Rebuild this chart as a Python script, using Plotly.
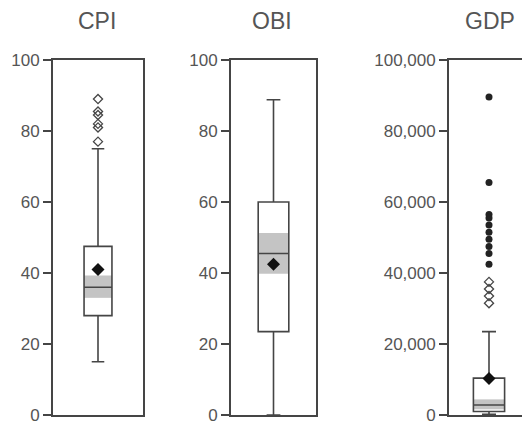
"""Box plots of CPI, OBI and GDP (three side-by-side panels).

Each panel: box (Q1..Q3) with median, gray band for the median CI,
whiskers with caps, mean as a filled diamond, outliers as markers.
"""

import plotly.graph_objects as go

# ---------------------------------------------------------------------------
# Data
# ---------------------------------------------------------------------------

panels = ["CPI", "OBI", "GDP"]

q1 = [28, 23.5, 1000]
median = [36, 45.5, 2800]
q3 = [47.5, 60, 10400]
lower_fence = [15, 0, 200]
upper_fence = [75, 88.8, 23500]
means = [41, 42.5, 10300]
ci_low = [33, 39.8, 1600]
ci_high = [39.3, 51.3, 4400]

# mild outliers (open diamonds)
mild_outliers = [
    [89, 85.5, 84.5, 82, 81, 77],
    [],
    [37500, 35500, 33500, 31500],
]
# far outliers (filled)
far_outliers = [
    [],
    [],
    [89600, 65500, 56500, 55500, 53500, 51500, 49500, 47500, 45500, 42500],
]

y_ranges = [[0, 100], [0, 100], [0, 100000]]
y_dticks = [20, 20, 20000]

# ---------------------------------------------------------------------------
# Style
# ---------------------------------------------------------------------------

LINE = "#454545"
BAND = "#c4c4c4"
TEXT = "#555555"
FONT = "Liberation Sans, Arial, sans-serif"

# page body has an 8px margin, so the figure is 16px smaller than the window
W, H = 522, 419
x_domains = [[45 / W, 135 / W], [223 / W, 308 / W], [441 / W, 521 / W]]
y_domain = [1 - 407 / H, 1 - 52 / H]
box_widths = [0.62, 0.72, 0.78]
title_x = [89 / W, 264 / W, 482 / W]

fig = go.Figure()

for i, name in enumerate(panels):
    xa = "x" if i == 0 else f"x{i + 1}"
    ya = "y" if i == 0 else f"y{i + 1}"
    w = box_widths[i]

    # -- median confidence band ---------------------------------------------
    fig.add_trace(go.Bar(
        x=[0], y=[ci_high[i] - ci_low[i]], base=[ci_low[i]],
        width=[w], marker=dict(color=BAND, line=dict(width=0)),
        xaxis=xa, yaxis=ya, hoverinfo="skip",
    ))

    # -- box + whiskers -----------------------------------------------------
    fig.add_trace(go.Box(
        x=[0], q1=[q1[i]], median=[median[i]], q3=[q3[i]],
        lowerfence=[lower_fence[i]], upperfence=[upper_fence[i]],
        width=w, whiskerwidth=0.45,
        line=dict(color=LINE, width=1.6),
        fillcolor="rgba(0,0,0,0)",
        boxpoints=False,
        xaxis=xa, yaxis=ya, name=name,
    ))

    # -- outliers -----------------------------------------------------------
    if mild_outliers[i]:
        fig.add_trace(go.Scatter(
            x=[0] * len(mild_outliers[i]), y=mild_outliers[i],
            mode="markers",
            marker=dict(symbol="diamond-open", size=7, color=LINE,
                        line=dict(width=1.3, color=LINE)),
            xaxis=xa, yaxis=ya, cliponaxis=False,
        ))
    if far_outliers[i]:
        fig.add_trace(go.Scatter(
            x=[0] * len(far_outliers[i]), y=far_outliers[i],
            mode="markers",
            marker=dict(symbol="circle", size=7, color="#222222"),
            xaxis=xa, yaxis=ya,
        ))

    # -- mean ---------------------------------------------------------------
    fig.add_trace(go.Scatter(
        x=[0], y=[means[i]], mode="markers",
        marker=dict(symbol="diamond", size=10, color="#111111"),
        xaxis=xa, yaxis=ya,
    ))

    # -- axes ---------------------------------------------------------------
    axis_common = dict(showline=True, mirror=True, linecolor=LINE, linewidth=1.8,
                       showgrid=False, zeroline=False, automargin=False)
    fig.update_layout({
        ("xaxis" if i == 0 else f"xaxis{i + 1}"): dict(
            domain=x_domains[i], range=[-1, 1], showticklabels=False,
            ticks="", anchor=ya, fixedrange=True, **axis_common,
        ),
        ("yaxis" if i == 0 else f"yaxis{i + 1}"): dict(
            domain=y_domain, range=y_ranges[i], dtick=y_dticks[i],
            tickformat=",d", ticks="outside", ticklen=8, tickwidth=1.6,
            tickcolor=LINE, anchor=xa,
            tickfont=dict(family=FONT, size=17, color=TEXT),
            **axis_common,
        ),
    })

    fig.add_annotation(
        x=title_x[i], y=1 - 13 / H, xref="paper", yref="paper",
        text=name, showarrow=False, xanchor="center", yanchor="middle",
        font=dict(family=FONT, size=23, color=TEXT),
    )

# -- Layout ------------------------------------------------------------------
fig.update_layout(
    width=W, height=H,
    margin=dict(l=0, r=0, t=0, b=0),
    showlegend=False,
    plot_bgcolor="white", paper_bgcolor="white",
    barmode="overlay",
)

fig.write_html("out.html")
